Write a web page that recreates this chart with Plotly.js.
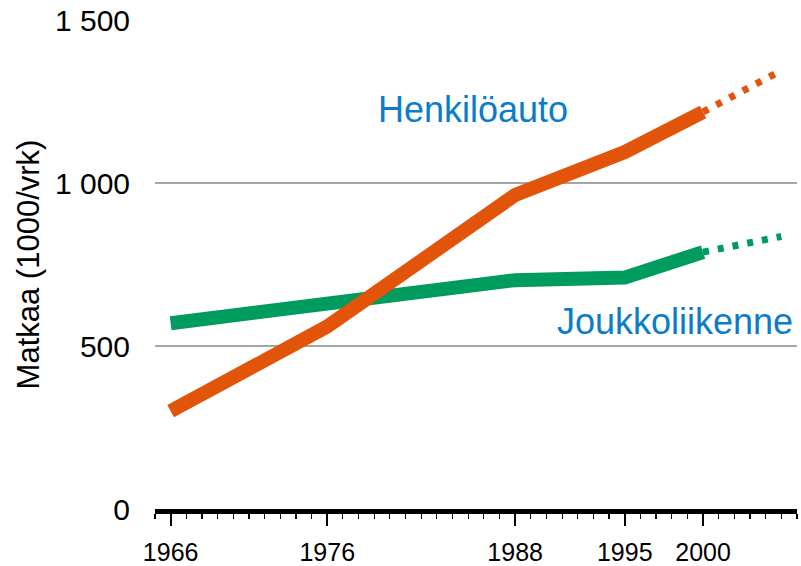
<!DOCTYPE html>
<html>
<head>
<meta charset="utf-8">
<script src="https://cdn.plot.ly/plotly-3.0.1.min.js"></script>
<style>
html,body{margin:0;padding:0;background:#fff;}
#chart{width:801px;height:566px;}
</style>
</head>
<body>
<div id="chart"></div>
<script>
// Data
var years = [1966, 1976, 1988, 1995, 2000];
var henkiloauto = [300, 560, 963, 1095, 1218];
var joukkoliikenne = [570, 630, 702, 710, 788];
var ennusteYears = [2000, 2005];
var henkiloautoEnnuste = [1218, 1345];
var joukkoliikenneEnnuste = [788, 836];
var xTickVals = [1966, 1976, 1988, 1995, 2000];
var xTickText = ['1966', '1976', '1988', '1995', '2000'];
var yTickVals = [0, 500, 1000, 1500];
var yTickText = ['0', '500', '1 000', '1 500'];
var seriesNames = ['Henkilöauto', 'Joukkoliikenne'];
var yTitle = 'Matkaa (1000/vrk)';

var orange = '#E2540A';
var green = '#009B5E';
var blue = '#0B7DC8';

var traces = [
  {x: years, y: joukkoliikenne, mode: 'lines', line: {color: green, width: 14}, name: seriesNames[1]},
  {x: years, y: henkiloauto, mode: 'lines', line: {color: orange, width: 14}, name: seriesNames[0]},
  {x: ennusteYears, y: joukkoliikenneEnnuste, mode: 'lines', line: {color: green, width: 7, dash: '6px,9px'}},
  {x: ennusteYears, y: henkiloautoEnnuste, mode: 'lines', line: {color: orange, width: 7, dash: '6px,9px'}}
];

var layout = {
  width: 801, height: 566,
  margin: {l: 155, r: 4, t: 20, b: 57},
  showlegend: false,
  paper_bgcolor: '#fff', plot_bgcolor: '#fff',
  font: {family: 'Liberation Sans, Arial, sans-serif', color: '#000'},
  xaxis: {
    range: [1965, 2006],
    tickmode: 'array', tickvals: xTickVals, ticktext: xTickText,
    ticks: 'outside', ticklen: 12, tickwidth: 2, tickcolor: '#000',
    showgrid: false, zeroline: false,
    showline: true, linecolor: '#000', linewidth: 5,
    tickfont: {size: 25, color: '#000'},
    ticklabelstandoff: 5,
    minor: {tickmode: 'linear', tick0: 1965, dtick: 1, ticks: 'outside', ticklen: 5, tickwidth: 1.2, tickcolor: '#000', showgrid: false}
  },
  yaxis: {
    range: [0, 1500],
    tickmode: 'array', tickvals: yTickVals, ticktext: yTickText,
    showgrid: true, gridcolor: '#A6A6A6', gridwidth: 1.5,
    zeroline: false, showline: false, ticks: '',
    tickfont: {size: 30, color: '#000'},
    ticklabelstandoff: 24,
    title: {text: yTitle, font: {size: 31, color: '#000'}, standoff: 6}
  },
  annotations: [
    {x: 1985.3, y: 1224, xref: 'x', yref: 'y', text: seriesNames[0], showarrow: false,
     font: {size: 36, color: blue}, xanchor: 'center', yanchor: 'middle'},
    {x: 1998.2, y: 574, xref: 'x', yref: 'y', text: seriesNames[1], showarrow: false,
     font: {size: 36, color: blue}, xanchor: 'center', yanchor: 'middle'}
  ]
};

Plotly.newPlot('chart', traces, layout, {displayModeBar: false, staticPlot: true});
</script>
</body>
</html>
